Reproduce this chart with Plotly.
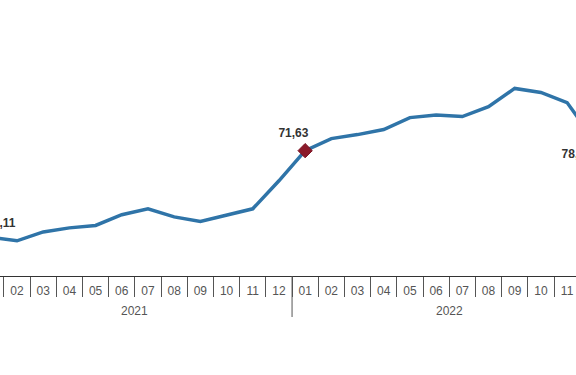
import plotly.graph_objects as go

years = ["2021"] * 12 + ["2022"] * 12
months = ["01", "02", "03", "04", "05", "06", "07", "08", "09", "10", "11", "12"] * 2
values = [22.11, 20.1, 25.2, 27.5, 28.9, 35.0, 38.4, 33.8, 31.2, 35.0, 38.4, 54.4,
          71.63, 78.5, 80.8, 83.7, 90.5, 92.0, 91.1, 96.8, 107.2, 104.9, 99.1, 78.40]
labelled = {0: "top center", 12: "top center", 23: "bottom center"}
highlight = 12

NB = "\u00a0"
pads = {0: (NB * 6, ""), 12: ("", NB * 7), 23: ("", NB * 10)}
label_gap = {0: 10, 12: 16, 23: 14}

categories = [f"{y}-{m}" for y, m in zip(years, months)]


def fmt(v):
    return f"{v:.2f}".replace(".", ",")


texts = []
for i, v in enumerate(values):
    if i in labelled:
        pre, post = pads[i]
        texts.append(pre + fmt(v) + post)
    else:
        texts.append("")
positions = [labelled.get(i, "top center") for i in range(len(values))]
msizes = [label_gap.get(i, 0) for i in range(len(values))]

fig = go.Figure()
fig.add_trace(go.Scatter(
    x=categories, y=values, mode="lines+markers+text",
    line=dict(color="#2f74a8", width=3.5),
    marker=dict(size=msizes, opacity=0, color="#2f74a8"),
    text=texts, textposition=positions,
    textfont=dict(family="Liberation Sans, Arial, sans-serif", size=12, color="#333333", weight="bold"),
    cliponaxis=True, hoverinfo="skip", showlegend=False,
))
fig.add_trace(go.Scatter(
    x=[categories[highlight]], y=[values[highlight]], mode="markers",
    marker=dict(symbol="diamond", size=11, color="#8b1a2a", line=dict(color="#7a1020", width=1)),
    hoverinfo="skip", showlegend=False,
))

# year group labels and dividers, derived from the years list
unique_years = []
for y in years:
    if y not in unique_years:
        unique_years.append(y)
for yr in unique_years:
    idx = [i for i, y in enumerate(years) if y == yr]
    center = (idx[0] + idx[-1]) / 2
    fig.add_annotation(x=center, xref="x", y=0, yref="paper", yanchor="middle",
                       yshift=-35, text=yr, showarrow=False,
                       font=dict(size=12, color="#555555"))
    if idx[0] > 0:
        fig.add_shape(type="line", xref="x", x0=idx[0] - 0.5, x1=idx[0] - 0.5,
                      yref="paper", ysizemode="pixel", yanchor=0, y0=0, y1=-41,
                      line=dict(color="#555555", width=1))

fig.update_layout(
    width=576, height=375,
    margin=dict(l=0, r=0, t=66, b=99),
    paper_bgcolor="white", plot_bgcolor="white",
    font=dict(family="Liberation Sans, Arial, sans-serif", size=12, color="#555555"),
    showlegend=False,
)
fig.update_xaxes(
    type="category", range=[0.351, 22.34],
    tickmode="array", tickvals=categories, ticktext=months, tickson="boundaries",
    showline=True, linecolor="#333333", linewidth=1,
    ticks="outside", ticklen=20, tickcolor="#555555", tickwidth=1,
    ticklabelstandoff=4,
    tickfont=dict(size=12, color="#555555"),
    showgrid=False, zeroline=False,
)
fig.update_yaxes(range=[0, 120], visible=False, showgrid=False, zeroline=False)

fig.write_html("out.html", config={"displayModeBar": False},
               post_script="document.body.style.margin='0';document.body.style.padding='0';")
